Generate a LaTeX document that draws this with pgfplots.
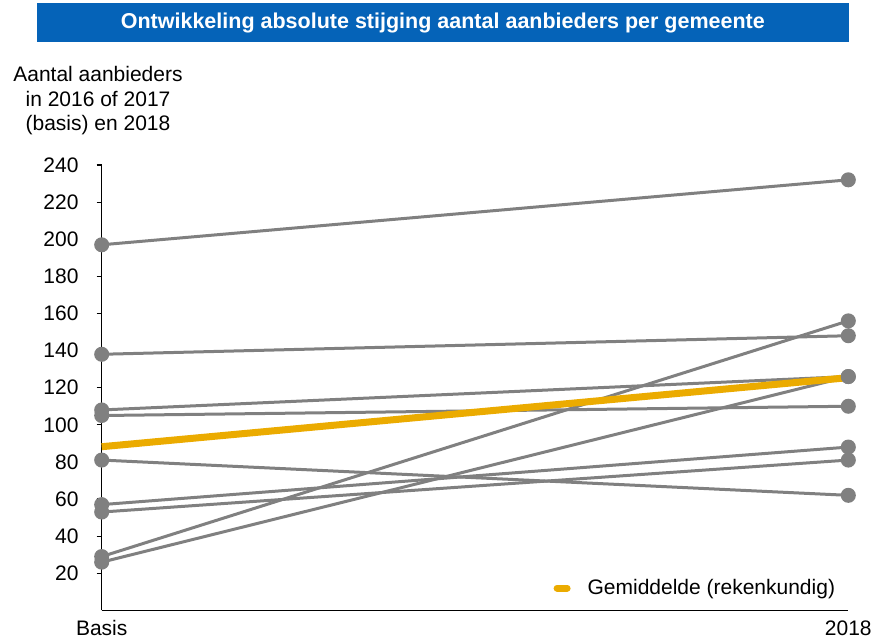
\documentclass[border=0pt]{standalone}
\usepackage{fontspec}
\setmainfont{Liberation Sans}
\usepackage{pgfplots}
\pgfplotsset{compat=1.18}
\definecolor{titleblue}{RGB}{5,99,184}
\definecolor{avgorange}{RGB}{235,171,0}
\definecolor{linegray}{RGB}{128,128,128}

\begin{document}
\fontsize{21bp}{25bp}\selectfont
\begin{tikzpicture}[x=1bp,y=1bp]
\useasboundingbox (-101.7,-29.6) rectangle (787.3,610.4);
\begin{axis}[
    at={(0,0)}, anchor=south west,
    scale only axis,
    width=746.6bp, height=445.4bp,
    xmin=0, xmax=1, ymin=0, ymax=240,
    clip=false,
    axis x line*=bottom, axis y line*=left,
    axis line style={black, line width=1.2bp},
    xtick={0,1}, xticklabels={Basis,2018},
    x tick style={draw=none},
    ytick={20,40,...,240},
    y tick style={black, line width=1.2bp},
    tick align=outside, major tick length=5bp,
    tick label style={font=\fontsize{21bp}{25bp}\selectfont},
    yticklabel style={anchor=east, inner sep=0pt, xshift=-18bp},
    xticklabel style={anchor=north, inner sep=0pt, yshift=-5bp},
    /pgf/number format/assume math mode=true,
    legend style={at={(axis cs:0.605,12)}, anchor=west, draw=none, fill=none,
        inner sep=0pt, font=\fontsize{21bp}{25bp}\selectfont,
        /tikz/every odd column/.append style={column sep=15bp}},
    legend cell align=left,
    legend image code/.code={\draw[#1, line cap=round] (0bp,0bp) -- (10bp,0bp);},
]
% basis -> 2018 per gemeente
\pgfplotsset{every axis plot/.append style={linegray, line width=3bp,
    mark=*, mark size=6bp, mark options={fill=linegray, draw=none}}}
\addplot[forget plot] coordinates {(0,197) (1,232)};
\addplot[forget plot] coordinates {(0,138) (1,148)};
\addplot[forget plot] coordinates {(0,108) (1,126)};
\addplot[forget plot] coordinates {(0,105) (1,110)};
\addplot[forget plot] coordinates {(0,81) (1,62)};
\addplot[forget plot] coordinates {(0,57) (1,88)};
\addplot[forget plot] coordinates {(0,53) (1,81)};
\addplot[forget plot] coordinates {(0,29) (1,156)};
\addplot[forget plot] coordinates {(0,26) (1,126)};
% gemiddelde
\addplot[avgorange, line width=7bp, mark=none] coordinates {(0,88.2) (1,125.4)};
\addlegendentry{Gemiddelde (rekenkundig)}
\end{axis}
\node[fill=titleblue, minimum width=811.7bp, minimum height=39.3bp, inner sep=0pt,
    text=white, font=\fontsize{21.5bp}{25bp}\selectfont\bfseries]
    at (341.15,587.75) {Ontwikkeling absolute stijging aantal aanbieders per gemeente};
\node[anchor=base, inner sep=0pt] at (-3.7,528.4) {Aantal aanbieders};
\node[anchor=base, inner sep=0pt] at (-3.7,503.4) {in 2016 of 2017};
\node[anchor=base, inner sep=0pt] at (-3.7,479.4) {(basis) en 2018};
\end{tikzpicture}
\end{document}
